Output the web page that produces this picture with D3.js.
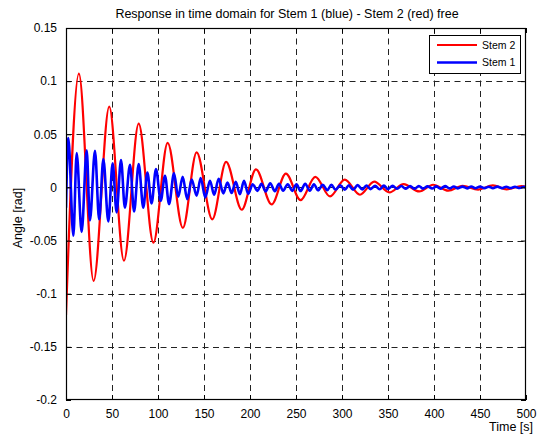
<!DOCTYPE html>
<html>
<head>
<meta charset="utf-8">
<script src="https://cdn.jsdelivr.net/npm/d3@7"></script>
<style>
  html, body { margin: 0; padding: 0; background: #fff; }
  svg { display: block; font-family: "Liberation Sans", Arial, sans-serif; }
</style>
</head>
<body>
<svg id="chart" width="539" height="438"></svg>
<script>
// ---- Data ----
const titleText = "Response in time domain for Stem 1 (blue) - Stem 2 (red) free";
const xLabel = "Time [s]";
const yLabel = "Angle [rad]";
const xTicks = [0, 50, 100, 150, 200, 250, 300, 350, 400, 450, 500];
const yTicks = [-0.2, -0.15, -0.1, -0.05, 0, 0.05, 0.1, 0.15];
const yTickLabels = ["-0.2", "-0.15", "-0.1", "-0.05", "0", "0.05", "0.1", "0.15"];

// Stem 2 (red): time [s] and angle [rad] at turning points
const stem2Time = [0, 14, 30, 47, 63, 79, 95, 110.5, 127, 142, 159, 174, 191, 206.5, 223.5, 239, 255, 271, 287, 303, 319.5, 335, 351.5, 367, 384, 399, 415.5, 431, 448, 464, 479, 495, 500];
const stem2Angle = [-0.12, 0.107, -0.088, 0.076, -0.069, 0.060, -0.052, 0.042, -0.038, 0.033, -0.030, 0.024, -0.021, 0.017, -0.016, 0.013, -0.012, 0.010, -0.0085, 0.0073, -0.0069, 0.0054, -0.0047, 0.0032, -0.0038, 0.0025, -0.003, 0.0016, -0.002, 0.0019, -0.0018, 0.0012, 0.0008];

// Stem 1 (blue): time [s] and angle [rad] at turning points
const stem1Time = [0, 2.5, 8, 11.6, 17, 22.5, 26, 31.5, 36, 40.6, 46, 50.7, 55, 59.8, 64, 69.6, 74, 79, 84, 88.4, 93, 97.8, 103, 107.6, 112, 117.4, 122, 126.8, 131.8, 136.6, 142, 146.4, 151.4, 156.5, 161, 166, 171, 175.5, 180, 184.5, 189, 193.5, 198, 203, 208, 212.5, 217, 222, 227, 231.5, 236, 241, 246, 250.5, 255, 260, 265, 269.5, 274, 279, 284, 288.5, 293, 298, 303, 307.5, 312, 317, 322, 326.5, 331, 336, 341, 345.5, 350, 355, 360, 364.5, 369, 374, 379, 383.5, 388, 393, 398, 402.5, 407, 412, 417, 421.5, 426, 431, 436, 440.5, 445, 450, 455, 459.5, 464, 469, 474, 478.5, 483, 488, 493, 497.5, 500];
const stem1Angle = [-0.019, 0.0465, -0.0455, 0.0324, -0.042, 0.035, -0.031, 0.0345, -0.030, 0.0267, -0.032, 0.0226, -0.0235, 0.0258, -0.019, 0.0214, -0.0226, 0.022, -0.019, 0.0141, -0.015, 0.0173, -0.0125, 0.011, -0.0157, 0.0132, -0.0088, 0.010, -0.011, 0.0075, -0.0078, 0.0088, -0.0094, 0.0063, -0.0069, 0.0082, -0.0056, 0.0047, -0.0053, 0.0054, -0.0063, 0.0063, -0.006, 0.003, -0.0032, 0.0035, -0.0038, 0.004, -0.0035, 0.0035, -0.003, 0.003, -0.0032, 0.003, -0.0034, 0.0035, -0.003, 0.003, -0.0028, 0.0025, -0.0026, 0.0025, -0.0022, 0.002, -0.0021, 0.002, -0.0022, 0.0022, -0.0019, 0.0018, -0.0016, 0.0015, -0.0017, 0.0017, -0.0015, 0.0015, -0.0013, 0.0013, -0.0012, 0.0012, -0.0013, 0.0013, -0.0011, 0.001, -0.001, 0.001, -0.0011, 0.0012, -0.001, 0.0009, -0.0009, 0.0008, -0.0009, 0.0009, -0.0008, 0.0008, -0.0007, 0.0007, -0.0008, 0.0008, -0.0007, 0.0007, -0.0006, 0.0006, -0.0006, 0.0006, 0.0];

const seriesNames = ["Stem 2", "Stem 1"];
const seriesColors = ["#ff0000", "#0000ff"];

// ---- Layout ----
const svg = d3.select("#chart");
const W = 539, H = 438;
const margin = {left: 66, top: 28, right: 13, bottom: 38};
const iw = W - margin.left - margin.right;
const ih = H - margin.top - margin.bottom;

const x = d3.scaleLinear().domain([0, 500]).range([margin.left, margin.left + iw]);
const y = d3.scaleLinear().domain([-0.2, 0.15]).range([margin.top + ih, margin.top]);

svg.append("rect").attr("x", 0).attr("y", 0).attr("width", W).attr("height", H).attr("fill", "#fff");

// Grid
const grid = svg.append("g").attr("stroke", "#222").attr("stroke-width", 1).attr("stroke-dasharray", "6,4.5").attr("fill", "none");
xTicks.slice(1, -1).forEach(t => {
  grid.append("line").attr("x1", Math.round(x(t)) + 0.5).attr("x2", Math.round(x(t)) + 0.5)
    .attr("y1", y(0.15)).attr("y2", y(-0.2));
});
yTicks.slice(1, -1).forEach(t => {
  grid.append("line").attr("y1", Math.round(y(t)) + 0.5).attr("y2", Math.round(y(t)) + 0.5)
    .attr("x1", x(0)).attr("x2", x(500));
});

// Clip
svg.append("clipPath").attr("id", "clip").append("rect")
  .attr("x", margin.left).attr("y", margin.top).attr("width", iw).attr("height", ih);

const line = d3.line().x(d => x(d[0])).y(d => y(d[1])).curve(d3.curveMonotoneX);
const stem2 = stem2Time.map((t, i) => [t, stem2Angle[i]]);
const stem1 = stem1Time.map((t, i) => [t, stem1Angle[i]]);

const plot = svg.append("g").attr("clip-path", "url(#clip)");
plot.append("path").datum(stem2).attr("d", line).attr("fill", "none")
  .attr("stroke", seriesColors[0]).attr("stroke-width", 2.2).attr("stroke-linejoin", "round");
plot.append("path").datum(stem1).attr("d", line).attr("fill", "none")
  .attr("stroke", seriesColors[1]).attr("stroke-width", 2.6).attr("stroke-linejoin", "round");

// Axes (inside ticks, MATLAB box)
const tickLen = 5;
const axisBottom = d3.axisBottom(x).tickValues(xTicks).tickSizeInner(-tickLen).tickSizeOuter(0).tickPadding(9).tickFormat(d3.format("d"));
const axisTop = d3.axisTop(x).tickValues(xTicks).tickSizeInner(-tickLen).tickSizeOuter(0).tickFormat("");
const axisLeft = d3.axisLeft(y).tickValues(yTicks).tickSizeInner(-tickLen).tickSizeOuter(0).tickPadding(9)
  .tickFormat((d, i) => yTickLabels[i]);
const axisRight = d3.axisRight(y).tickValues(yTicks).tickSizeInner(-tickLen).tickSizeOuter(0).tickFormat("");

function styleAxis(g) {
  g.select(".domain").remove();
  g.selectAll(".tick line").attr("stroke", "#000");
  g.selectAll(".tick text").attr("fill", "#000").attr("font-size", 12)
    .attr("font-family", "'Liberation Sans', Arial, sans-serif");
}
svg.append("g").attr("transform", `translate(0,${y(-0.2)})`).call(axisBottom).call(styleAxis);
svg.append("g").attr("transform", `translate(0,${y(0.15)})`).call(axisTop).call(styleAxis);
svg.append("g").attr("transform", `translate(${x(0)},0)`).call(axisLeft).call(styleAxis);
svg.append("g").attr("transform", `translate(${x(500)},0)`).call(axisRight).call(styleAxis);

// Box
svg.append("rect").attr("x", x(0) + 0.5).attr("y", y(0.15) + 0.5)
  .attr("width", x(500) - x(0) - 1).attr("height", y(-0.2) - y(0.15) - 1)
  .attr("fill", "none").attr("stroke", "#000").attr("stroke-width", 1.2);

// Title & labels
svg.append("text").attr("x", 287).attr("y", 18).attr("text-anchor", "middle")
  .attr("font-size", 12.5).attr("fill", "#000").text(titleText);
svg.append("text").attr("x", 533).attr("y", 431).attr("text-anchor", "end")
  .attr("font-size", 12.5).attr("fill", "#000").text(xLabel);
svg.append("text").attr("transform", "translate(22,218) rotate(-90)").attr("text-anchor", "middle")
  .attr("font-size", 12.5).attr("fill", "#000").text(yLabel);

// Legend
const lg = svg.append("g");
lg.append("rect").attr("x", 429.5).attr("y", 35.5).attr("width", 91).attr("height", 38)
  .attr("fill", "#fff").attr("stroke", "#000").attr("stroke-width", 1);
seriesNames.forEach((name, i) => {
  const yy = 45 + i * 17.5;
  lg.append("line").attr("x1", 437).attr("x2", 477).attr("y1", yy).attr("y2", yy)
    .attr("stroke", seriesColors[i]).attr("stroke-width", i === 0 ? 2.2 : 2.6);
  lg.append("text").attr("x", 482).attr("y", yy + 3.5).attr("font-size", 10.5)
    .attr("fill", "#000").text(name);
});
</script>
</body>
</html>
